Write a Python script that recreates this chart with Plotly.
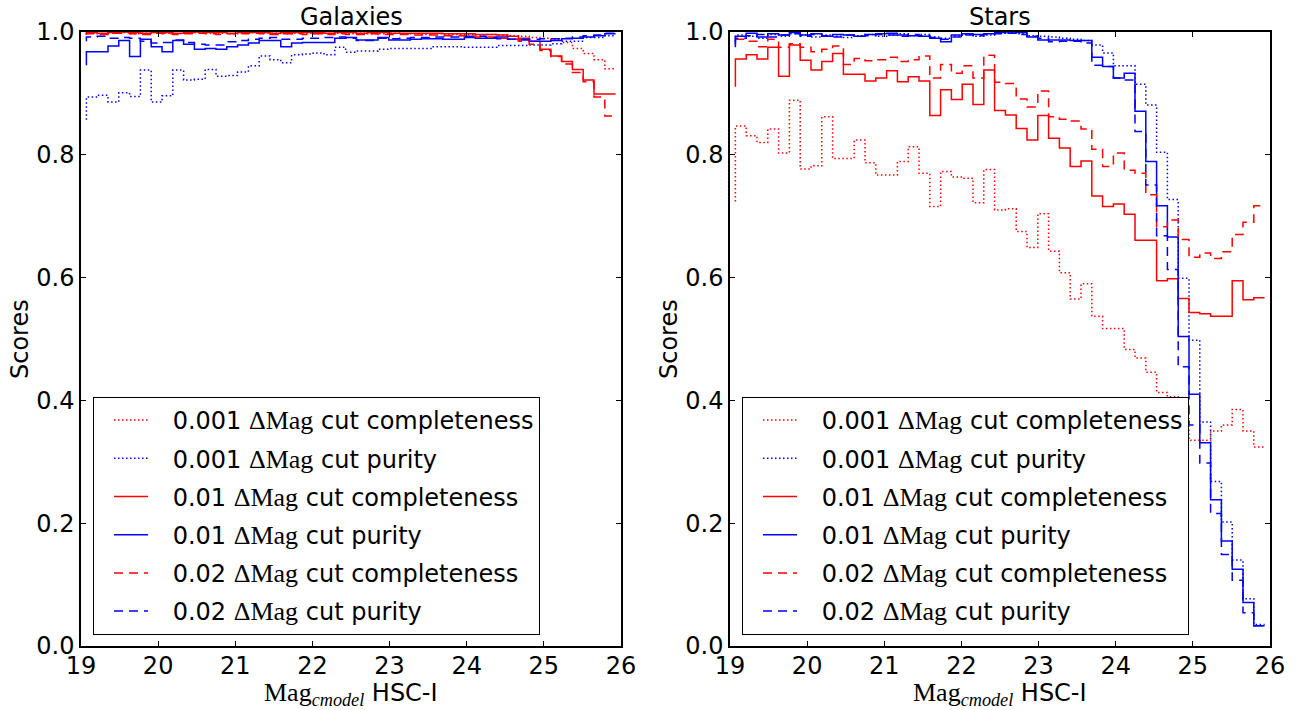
import numpy as np
import plotly.graph_objects as go

# ---------------- data ----------------
MAG_LO, MAG_HI, N_BINS = 19.0, 26.0, 50
edges = np.linspace(MAG_LO, MAG_HI, N_BINS + 1)
mag_centers = 0.5 * (edges[:-1] + edges[1:])

# Galaxies
gal_comp_001 = [0.996, 0.998, 0.997, 0.998, 0.999, 0.997, 0.998, 0.999, 0.998, 0.997,
                0.998, 0.999, 0.998, 0.998, 0.997, 0.998, 0.999, 0.998, 0.998, 0.997,
                0.998, 0.998, 0.997, 0.998, 0.998, 0.997, 0.998, 0.997, 0.997, 0.998,
                0.997, 0.997, 0.996, 0.997, 0.996, 0.996, 0.996, 0.995, 0.996, 0.995,
                0.994, 0.993, 0.991, 0.990, 0.988, 0.983, 0.973, 0.965, 0.955, 0.940]
gal_pur_001 = [0.857, 0.894, 0.897, 0.886, 0.901, 0.895, 0.938, 0.886, 0.896, 0.938,
               0.922, 0.923, 0.939, 0.928, 0.929, 0.935, 0.945, 0.961, 0.955, 0.950,
               0.963, 0.964, 0.966, 0.963, 0.975, 0.967, 0.969, 0.969, 0.972, 0.973,
               0.973, 0.973, 0.973, 0.976, 0.976, 0.976, 0.975, 0.975, 0.975, 0.978,
               0.978, 0.978, 0.979, 0.979, 0.981, 0.985, 0.985, 0.991, 0.991, 0.994]
gal_comp_01 = [0.997, 0.999, 0.998, 0.999, 1.000, 0.999, 0.998, 0.999, 0.999, 0.998,
               0.999, 1.000, 0.999, 0.999, 0.998, 0.999, 0.999, 0.999, 0.998, 0.999,
               0.999, 0.999, 0.999, 0.998, 0.999, 0.999, 0.998, 0.999, 0.999, 0.998,
               0.998, 0.998, 0.998, 0.998, 0.997, 0.997, 0.997, 0.996, 0.996, 0.995,
               0.993, 0.990, 0.985, 0.972, 0.961, 0.952, 0.939, 0.922, 0.899, 0.899]
gal_pur_01 = [0.946, 0.968, 0.968, 0.977, 0.986, 0.960, 0.988, 0.976, 0.968, 0.986,
              0.980, 0.972, 0.973, 0.972, 0.976, 0.979, 0.982, 0.986, 0.986, 0.976,
              0.982, 0.983, 0.983, 0.983, 0.990, 0.991, 0.987, 0.987, 0.991, 0.987,
              0.987, 0.988, 0.989, 0.989, 0.988, 0.988, 0.991, 0.990, 0.990, 0.992,
              0.988, 0.987, 0.985, 0.985, 0.986, 0.989, 0.990, 0.992, 0.994, 0.997]
gal_comp_02 = [0.995, 0.997, 0.996, 0.998, 0.998, 0.997, 0.996, 0.998, 0.997, 0.996,
               0.997, 0.998, 0.997, 0.996, 0.997, 0.997, 0.998, 0.997, 0.996, 0.997,
               0.997, 0.996, 0.997, 0.996, 0.997, 0.996, 0.996, 0.997, 0.996, 0.996,
               0.996, 0.995, 0.995, 0.995, 0.994, 0.994, 0.993, 0.992, 0.992, 0.990,
               0.988, 0.985, 0.980, 0.970, 0.960, 0.948, 0.934, 0.919, 0.894, 0.863]
gal_pur_02 = [0.985, 0.992, 0.993, 0.990, 0.991, 0.990, 0.985, 0.982, 0.983, 0.987,
              0.983, 0.980, 0.979, 0.979, 0.984, 0.986, 0.988, 0.990, 0.991, 0.988,
              0.988, 0.990, 0.990, 0.991, 0.992, 0.990, 0.986, 0.986, 0.990, 0.989,
              0.990, 0.991, 0.991, 0.992, 0.992, 0.992, 0.993, 0.993, 0.991, 0.989,
              0.988, 0.988, 0.988, 0.989, 0.989, 0.990, 0.992, 0.994, 0.995, 0.998]

# Stars
star_comp_001 = [0.724, 0.847, 0.831, 0.820, 0.842, 0.803, 0.889, 0.777, 0.782, 0.862,
                 0.794, 0.794, 0.824, 0.787, 0.767, 0.767, 0.789, 0.813, 0.770, 0.716,
                 0.773, 0.764, 0.762, 0.722, 0.776, 0.710, 0.712, 0.675, 0.649, 0.704,
                 0.643, 0.608, 0.565, 0.590, 0.537, 0.517, 0.517, 0.483, 0.469, 0.446,
                 0.413, 0.406, 0.370, 0.335, 0.335, 0.350, 0.360, 0.385, 0.350, 0.324]
star_pur_001 = [0.985, 0.995, 0.993, 0.990, 0.996, 0.993, 0.997, 0.995, 0.992, 0.995,
                0.993, 0.991, 0.994, 0.996, 0.993, 0.995, 0.997, 0.994, 0.996, 0.992,
                0.990, 0.994, 0.996, 0.993, 0.995, 0.998, 0.999, 0.997, 0.994, 0.993,
                0.992, 0.990, 0.988, 0.986, 0.979, 0.966, 0.945, 0.945, 0.915, 0.881,
                0.804, 0.727, 0.599, 0.498, 0.365, 0.268, 0.202, 0.140, 0.077, 0.035]
star_comp_01 = [0.911, 0.956, 0.963, 0.956, 0.975, 0.928, 0.979, 0.954, 0.938, 0.952,
                0.965, 0.931, 0.931, 0.920, 0.925, 0.937, 0.919, 0.927, 0.920, 0.864,
                0.906, 0.890, 0.915, 0.882, 0.938, 0.872, 0.865, 0.843, 0.824, 0.864,
                0.827, 0.811, 0.781, 0.790, 0.733, 0.716, 0.720, 0.703, 0.661, 0.661,
                0.595, 0.598, 0.566, 0.543, 0.541, 0.537, 0.537, 0.595, 0.564, 0.567]
star_pur_01 = [0.975, 0.993, 0.998, 0.992, 0.997, 0.995, 0.999, 0.995, 0.997, 0.993,
               0.996, 0.995, 0.993, 0.996, 0.997, 0.998, 0.995, 0.994, 0.993, 0.990,
               0.984, 0.995, 0.997, 0.996, 0.997, 0.999, 1.000, 0.999, 0.992, 0.987,
               0.987, 0.987, 0.986, 0.986, 0.959, 0.944, 0.925, 0.933, 0.871, 0.789,
               0.717, 0.666, 0.504, 0.410, 0.331, 0.238, 0.171, 0.125, 0.071, 0.033]
star_comp_02 = [0.988, 0.988, 0.985, 0.976, 0.988, 0.975, 0.981, 0.975, 0.968, 0.972,
                0.977, 0.947, 0.957, 0.953, 0.955, 0.959, 0.952, 0.955, 0.961, 0.925,
                0.947, 0.933, 0.945, 0.925, 0.962, 0.918, 0.916, 0.891, 0.878, 0.904,
                0.862, 0.858, 0.855, 0.842, 0.809, 0.781, 0.803, 0.775, 0.770, 0.735,
                0.683, 0.694, 0.662, 0.633, 0.640, 0.631, 0.642, 0.670, 0.690, 0.717]
star_pur_02 = [0.980, 0.990, 0.994, 0.996, 0.992, 0.995, 0.997, 0.993, 0.996, 0.994,
               0.992, 0.995, 0.993, 0.994, 0.996, 0.995, 0.993, 0.996, 0.994, 0.991,
               0.988, 0.992, 0.995, 0.994, 0.996, 0.997, 0.998, 0.996, 0.993, 0.990,
               0.984, 0.985, 0.985, 0.982, 0.946, 0.944, 0.925, 0.922, 0.838, 0.751,
               0.668, 0.613, 0.455, 0.360, 0.298, 0.216, 0.149, 0.107, 0.054, 0.033]

x_ticks = [19, 20, 21, 22, 23, 24, 25, 26]
y_ticks = [0.0, 0.2, 0.4, 0.6, 0.8, 1.0]
panel_titles = ["Galaxies", "Stars"]

SERIF = "Liberation Serif"
DM = '<span style="font-family:%s;font-size:26px">ΔMag</span>' % SERIF
PAD = "\u2002\u00a0"
labels = [PAD + "0.001 %s cut completeness" % DM, PAD + "0.001 %s cut purity" % DM,
          PAD + "0.01 %s cut completeness" % DM, PAD + "0.01 %s cut purity" % DM,
          PAD + "0.02 %s cut completeness" % DM, PAD + "0.02 %s cut purity" % DM]
colors = ["#ff0000", "#0000ff", "#ff0000", "#0000ff", "#ff0000", "#0000ff"]
dashes = ["1.5px,2.5px", "1.5px,2.5px", "solid", "solid", "9px,6px", "9px,6px"]

panels = [
    [gal_comp_001, gal_pur_001, gal_comp_01, gal_pur_01, gal_comp_02, gal_pur_02],
    [star_comp_001, star_pur_001, star_comp_01, star_pur_01, star_comp_02, star_pur_02],
]

# ---------------- figure ----------------
W, H = 1298, 710
FONT = "DejaVu Sans"
FS = 24


def px(xp):
    return xp / W


def py(yp):
    return 1 - yp / H


fig = go.Figure()

x_domains = [[px(81), px(621)], [px(730), px(1270)]]
y_domain = [py(646), py(32)]

for p, series in enumerate(panels):
    xa = "x" if p == 0 else "x2"
    ya = "y" if p == 0 else "y2"
    lg = "legend" if p == 0 else "legend2"
    for k, vals in enumerate(series):
        fig.add_trace(go.Scatter(
            x=mag_centers, y=vals, mode="lines",
            line=dict(color=colors[k], width=1.5, dash=dashes[k], shape="vh"),
            name=labels[k], xaxis=xa, yaxis=ya, legend=lg,
            legendgroup="p%d_%d" % (p, k), hoverinfo="skip",
        ))

axis_common = dict(
    showline=True, linecolor="black", linewidth=1.5, mirror="ticks",
    ticks="inside", ticklen=5, tickwidth=1, tickcolor="black",
    showgrid=False, zeroline=False, automargin=False,
    tickfont=dict(family=FONT, size=FS, color="black"),
)

fig.update_layout(
    width=W, height=H,
    margin=dict(l=0, r=0, t=0, b=0),
    paper_bgcolor="white", plot_bgcolor="white",
    font=dict(family=FONT, size=FS, color="black"),
    showlegend=True,
    xaxis=dict(domain=x_domains[0], range=[MAG_LO, MAG_HI], tickvals=x_ticks,
               anchor="y", ticklabelstandoff=-3, **axis_common),
    yaxis=dict(domain=y_domain, range=[0, 1], tickvals=y_ticks, tickformat=".1f",
               anchor="x", **axis_common),
    xaxis2=dict(domain=x_domains[1], range=[MAG_LO, MAG_HI], tickvals=x_ticks,
                anchor="y2", ticklabelstandoff=-3, **axis_common),
    yaxis2=dict(domain=y_domain, range=[0, 1], tickvals=y_ticks, tickformat=".1f",
                anchor="x2", **axis_common),
)

legend_common = dict(
    xanchor="left", yanchor="top", y=py(397),
    bgcolor="white", bordercolor="black", borderwidth=1,
    font=dict(family=FONT, size=FS, color="black"),
    traceorder="grouped", tracegroupgap=4, itemwidth=34, indentation=15,
)
fig.update_layout(
    legend=dict(x=px(93), **legend_common),
    legend2=dict(x=px(742), **legend_common),
)

xlabel = ('<span style="font-family:%s;font-size:26px">Mag<sub><i>cmodel</i></sub></span> HSC-I'
          % SERIF)
for p in range(2):
    cx = (x_domains[p][0] + x_domains[p][1]) / 2
    fig.add_annotation(text=panel_titles[p], x=cx, y=py(17), xref="paper", yref="paper",
                       showarrow=False, xanchor="center", yanchor="middle",
                       font=dict(family=FONT, size=FS, color="black"))
    fig.add_annotation(text=xlabel, x=cx, y=py(694), xref="paper", yref="paper",
                       showarrow=False, xanchor="center", yanchor="middle",
                       font=dict(family=FONT, size=FS, color="black"))
    sx = [20, 669][p]
    fig.add_annotation(text="Scores", x=px(sx), y=py(339), xref="paper", yref="paper",
                       showarrow=False, xanchor="center", yanchor="middle", textangle=-90,
                       font=dict(family=FONT, size=FS, color="black"))

# the default page body margin would push the 1298x710 figure off the window
fig.write_html("out.html", config={"displayModeBar": False},
               post_script="document.body.style.margin='0px';document.body.style.padding='0px';")
